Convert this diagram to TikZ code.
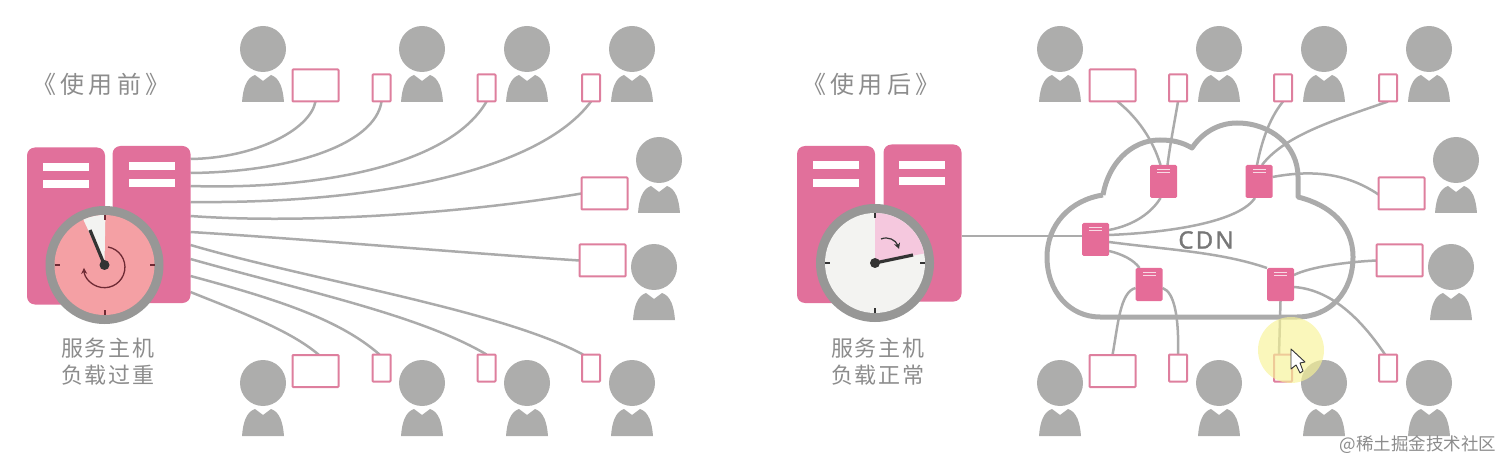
\documentclass[tikz,border=0pt]{standalone}
\usepackage{fontspec}
\usetikzlibrary{arrows.meta}
\newfontfamily\cjk[LetterSpace=9]{Noto Sans CJK SC}
\newfontfamily\cjkh[LetterSpace=18]{Noto Sans CJK SC}
\newfontfamily\cjkw{Noto Sans CJK SC}
\newfontfamily\latn[LetterSpace=9,FakeBold=1.2]{Noto Sans}
\definecolor{srvpink}{HTML}{E1709B}
\definecolor{cdnpink}{HTML}{E56C98}
\definecolor{boxpink}{HTML}{DE7F9E}
\definecolor{pgray}{HTML}{ADADAC}
\definecolor{lgray}{HTML}{ABABAB}
\definecolor{ringg}{HTML}{979796}
\definecolor{txtg}{HTML}{8C8C8C}
\definecolor{hand}{HTML}{333333}
\definecolor{clkred}{HTML}{F4A0A4}
\definecolor{clkwhite}{HTML}{F3F3F1}
\definecolor{clkpink}{HTML}{F5C8DE}
\definecolor{tickred}{HTML}{6E2A34}
\definecolor{glowy}{HTML}{F7F396}
\pgfdeclarelayer{under}
\pgfsetlayers{under,main}
\tikzset{
  ubox/.style={draw=boxpink,fill=white,line width=2pt,rounded corners=0.8pt,inner sep=0pt,outer sep=0pt},
  wide/.style={ubox,minimum width=46pt,minimum height=32pt},
  slim/.style={ubox,minimum width=18pt,minimum height=27pt},
  srv/.style={fill=srvpink,rounded corners=8pt,minimum width=78pt,minimum height=157pt,inner sep=0pt,outer sep=0pt},
  bar/.style={fill=white,minimum width=46pt,minimum height=8pt,inner sep=0pt,outer sep=0pt},
  cdn/.style={fill=cdnpink,rounded corners=1.5pt,minimum width=27pt,minimum height=33pt,inner sep=0pt,outer sep=0pt},
  cbar/.style={fill=white!75!cdnpink,minimum width=13pt,minimum height=1.6pt,inner sep=0pt,outer sep=0pt},
  wire/.style={draw=lgray,line width=2.5pt},
  head/.style={circle,fill=pgray,minimum size=46pt,inner sep=0pt,outer sep=0pt},
  ring/.style={circle,fill=ringg,minimum size=118pt,inner sep=0pt,outer sep=0pt},
  face/.style={circle,minimum size=100pt,inner sep=0pt,outer sep=0pt},
  hub/.style={circle,fill=hand,minimum size=10pt,inner sep=0pt},
  lab/.style={text=txtg,font=\cjk\fontsize{22}{27}\selectfont,align=center,inner sep=0pt},
  hdr/.style={text=txtg,font=\cjkh\fontsize{24}{28}\selectfont,inner sep=0pt},
}
\newcommand{\person}[3]{%
  \node[head] (#1) at (#2,#3) {};
  \fill[pgray] (#2-21,#3+53) .. controls (#2-20,#3+40) and (#2-17,#3+29) .. (#2-8,#3+26)
    -- (#2,#3+32) -- (#2+8,#3+26) .. controls (#2+17,#3+29) and (#2+20,#3+40) .. (#2+21,#3+53) -- cycle;
}
\newcommand{\cdnbox}[3]{%
  \node[cdn] (#1) at (#2,#3) {};
  \node[cbar] (#1b1) at (#2,#3-12) {};
  \node[cbar] (#1b2) at (#2,#3-9) {};
}
\begin{document}
\begin{tikzpicture}[x=1pt,y=-1pt]
\useasboundingbox (0,0) rectangle (1512,470);
% people
\foreach \n/\x/\y in {a/263/49,b/422/49,c/527/49,d/632/49,e/659/160,f/654/267,g/263/383,h/422/383,i/527/383,j/632/383,
 k/1060/49,l/1219/49,m/1324/49,n/1429/49,o/1456/160,p/1451/267,q/1060/383,r/1219/383,s/1324/383,t/1429/383}{\person{\n}{\x}{\y}}
% user boxes, left
\node[wide] (la) at (315.5,85.5) {};
\node[slim] (lb) at (381.5,88) {};
\node[slim] (lc) at (486.5,88) {};
\node[slim] (ld) at (591,88) {};
\node[wide] (le) at (604.5,193.5) {};
\node[wide] (lf) at (602.5,260.5) {};
\node[wide] (lg) at (315.5,371) {};
\node[slim] (lh) at (381.5,368) {};
\node[slim] (li) at (486.5,368) {};
\node[slim] (lj) at (591,368) {};
% user boxes, right
\node[wide] (ra) at (1112.5,85.5) {};
\node[slim] (rb) at (1178,88) {};
\node[slim] (rc) at (1283,88) {};
\node[slim] (rd) at (1388,88) {};
\node[wide] (re) at (1401.5,193.5) {};
\node[wide] (rf) at (1399.5,260.5) {};
\node[wide] (rg) at (1112.5,371) {};
\node[slim] (rh) at (1178,368) {};
\node[slim] (ri) at (1283,368) {};
\node[slim] (rj) at (1388,368) {};
% servers, left
\node[srv] (s1) at (66,226) {};
\node[srv] (s2) at (151.5,224.5) {};
\node[bar] (s1a) at (66,167) {};
\node[bar] (s1b) at (66,184) {};
\node[bar] (s2a) at (151.5,166) {};
\node[bar] (s2b) at (151.5,183) {};
% servers, right
\node[srv] (t1) at (836,224.5) {};
\node[srv] (t2) at (922.5,223) {};
\node[bar] (t1a) at (836,165.5) {};
\node[bar] (t1b) at (836,183) {};
\node[bar] (t2a) at (921.5,165) {};
\node[bar] (t2b) at (921.5,181) {};
% cdn nodes
\cdnbox{c1}{1163.5}{181.5}
\cdnbox{c2}{1259}{181.5}
\cdnbox{c3}{1095.5}{239.5}
\cdnbox{c4}{1149}{284.5}
\cdnbox{c5}{1280.5}{284.5}
\begin{pgfonlayer}{under}
% connectors, left
\draw[wire] (s2.east |- 0,159) .. controls (255,158) and (310,130) .. (la.south);
\draw[wire] (s2.east |- 0,173) .. controls (290,172) and (375,145) .. (lb.south);
\draw[wire] (s2.east |- 0,186) .. controls (320,190) and (450,165) .. (lc.south);
\draw[wire] (s2.east |- 0,202) .. controls (380,204) and (540,170) .. (ld.south);
\draw[wire] (s2.east |- 0,216) .. controls (300,224) and (460,214) .. (le.west);
\draw[wire] (s2.east |- 0,232) .. controls (320,240) and (450,252) .. (lf.west);
\draw[wire] (s2.east |- 0,245) .. controls (310,280) and (500,310) .. ([xshift=-8pt]lj.north);
\draw[wire] (s2.east |- 0,259) .. controls (300,290) and (420,315) .. (li.north);
\draw[wire] (s2.east |- 0,276) .. controls (280,300) and (340,320) .. ([xshift=-2pt]lh.north);
\draw[wire] (s2.east |- 0,292) .. controls (240,312) and (290,330) .. ([xshift=3.5pt]lg.north);
% connectors, right
\draw[wire] (t2.east |- 0,236) -- (c3.west |- 0,236);
\draw[wire] ([xshift=5pt]ra.south) .. controls (1138,118) and (1153,140) .. ([xshift=-3pt]c1.north);
\draw[wire] (rb.south) .. controls (1174,125) and (1170,145) .. ([xshift=4pt]c1.north);
\draw[wire] (rc.south) .. controls (1268,120) and (1261,145) .. ([xshift=-2pt]c2.north);
\draw[wire] (rd.south) .. controls (1335,120) and (1285,135) .. ([xshift=3pt]c2.north);
\draw[wire] (c2.east |- 0,177) .. controls (1310,170) and (1345,172) .. ([yshift=-1pt]re.west);
\draw[wire] (c5.east |- 0,275) .. controls (1310,267) and (1345,262) .. (rf.west);
\draw[wire] (c5.east |- 0,287) .. controls (1335,290) and (1365,325) .. ([xshift=-3pt]rj.north);
\draw[wire] (c5.south) -- ([xshift=-4pt]ri.north);
\draw[wire] (c4.east |- 0,288) .. controls (1175,292) and (1179,320) .. (rh.north);
\draw[wire] (c4.west |- 0,288) .. controls (1120,292) and (1118,325) .. (rg.north);
\draw[wire] (c3.east |- 0,230) .. controls (1135,225) and (1152,212) .. ([xshift=-3pt]c1.south);
\draw[wire] (c3.east |- 0,235) .. controls (1180,232) and (1240,220) .. ([xshift=-4pt]c2.south);
\draw[wire] (c3.east |- 0,242) .. controls (1170,250) and (1220,252) .. (c5.north west);
\draw[wire] (c3.east |- 0,251) .. controls (1122,254) and (1134,260) .. ([xshift=4pt]c4.north west);
% cloud
\draw[draw=lgray,line width=5pt,line join=round] (1103,195)
  .. controls (1070,200) and (1047,225) .. (1047,257)
  .. controls (1047,292) and (1070,317) .. (1100,317)
  -- (1297,317)
  .. controls (1330,317) and (1353,292) .. (1353,257)
  .. controls (1353,225) and (1330,205) .. (1298,197)
  -- (1298,177)
  .. controls (1298,145) and (1270,123) .. (1237,123)
  .. controls (1218,123) and (1202,133) .. (1192,148)
  .. controls (1182,142) and (1172,140) .. (1160,140)
  .. controls (1130,140) and (1108,165) .. (1103,195);
\end{pgfonlayer}
% left clock (y axis points down, so angles are written negated)
\node[ring] (ck1) at (104.5,265) {};
\node[face,fill=clkred] (ck1i) at (ck1) {};
\fill[clkwhite] (ck1.center) -- ++(-89:50) arc (-89:-115:50) -- cycle;
\foreach \a in {0,90,180,270}{\draw[line width=2pt,draw=tickred] (ck1.center) ++(\a:50) -- ++(\a:-5);}
\draw[draw=tickred,line width=1.3pt,-{Stealth[length=6pt,width=6pt]}] (108,247) arc (-80:178:20.5);
\draw[hand,line width=3.2pt] (ck1.center) -- (90,230);
\node[hub] (ck1h) at (ck1) {};
% right clock
\node[ring] (ck2) at (875,263) {};
\node[face,fill=clkwhite] (ck2i) at (ck2) {};
\fill[clkpink] (ck2.center) -- ++(-90:50) arc (-90:-11:50) -- cycle;
\foreach \a in {0,90,180,270}{\draw[line width=2pt,draw=hand] (ck2.center) ++(\a:50) -- ++(\a:-5);}
\draw[draw=hand,line width=1.2pt,-{Stealth[length=6pt,width=6pt]}] (881,239) .. controls (888,236) and (896,240) .. (899,249);
\draw[hand,line width=3.2pt] (ck2.center) -- (913,255);
\node[hub] (ck2h) at (ck2) {};
% highlight and cursor
\node[circle,fill=glowy,fill opacity=0.65,minimum size=66pt,inner sep=0pt] (glow) at (1291,350) {};
\draw[fill=white,draw=hand,line width=0.9pt,line join=round] (1291,349) -- (1291,369) -- (1296,365) -- (1300,373) -- (1303,371) -- (1300,363) -- (1305,362) -- cycle;
% texts
\node[hdr] (h1) at (101,84) {《使用前》};
\node[hdr] (h2) at (871,84) {《使用后》};
\node[lab] (l1) at (108,362) {服务主机\\负载过重};
\node[lab] (l2) at (878,362) {服务主机\\负载正常};
\node[text=txtg!85!black,font=\latn\fontsize{24}{28}\selectfont,inner sep=0pt] (cdnt) at (1206,240) {CDN};
\node[text=txtg,font=\cjkw\fontsize{17.5}{20}\selectfont,inner sep=0pt] (wm) at (1418,445) {@稀土掘金技术社区};
\end{tikzpicture}
\end{document}
